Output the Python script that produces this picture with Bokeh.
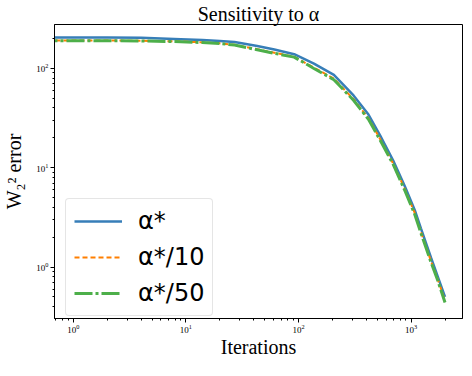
from bokeh.plotting import figure
from bokeh.models import Range1d, Legend, LegendItem
from bokeh.embed import file_html
from bokeh.resources import INLINE

iterations = [0.5, 1, 2, 4, 9, 14, 20, 27, 43, 61, 91.5, 137, 206, 308, 418, 530, 693, 879, 1076, 1222, 1500, 1725, 2000]
err_alpha = [205, 205, 205, 204, 197, 193, 189, 185, 168, 155, 139, 112, 86, 53.4, 34.3, 21.2, 11.8, 6.5, 3.75, 2.45, 1.25, 0.8, 0.5]
err_alpha_10 = [191, 191, 191, 190, 187, 183, 179, 173, 156, 144, 131, 102, 79, 49, 31.5, 19.5, 11, 6.1, 3.5, 2.25, 1.15, 0.75, 0.46]
err_alpha_50 = [190, 190, 190, 189, 186, 182, 178, 172, 154, 142, 130, 100, 77, 47.8, 30.7, 19, 10.8, 5.9, 3.4, 2.2, 1.12, 0.73, 0.44]
labels = ["α*", "α*/10", "α*/50"]

p = figure(width=464, height=360, x_axis_type="log", y_axis_type="log",
           x_range=Range1d(0.68, 2860), y_range=Range1d(0.303, 277),
           output_backend="svg", toolbar_location=None,
           min_border_left=52, min_border_right=2, min_border_top=0, min_border_bottom=0)

p.title.text = "Sensitivity to α"
p.title.align = "center"
p.title.text_font = "Liberation Serif"
p.title.text_font_size = "20px"
p.title.text_font_style = "normal"
p.title.text_color = "black"
p.title.text_line_height = 0.8
p.title.standoff = 0
p.title.offset = 0

p.xgrid.visible = False
p.ygrid.visible = False
p.outline_line_color = "black"
p.outline_line_width = 1
p.outline_line_alpha = 1

for ax in (p.xaxis[0], p.yaxis[0]):
    ax.axis_line_color = "black"
    ax.major_tick_line_color = "black"
    ax.minor_tick_line_color = "black"
    ax.major_tick_in = 0
    ax.major_tick_out = 4
    ax.minor_tick_in = 0
    ax.minor_tick_out = 2
    ax.major_label_standoff = 2
    ax.major_label_text_color = "black"
    ax.major_label_text_font = "Liberation Serif"
    ax.major_label_text_font_size = "9px"
    ax.axis_label_text_color = "black"
    ax.axis_label_text_font = "Liberation Serif"
    ax.axis_label_text_font_size = "20px"
    ax.axis_label_text_font_style = "normal"

p.xaxis.axis_label = "Iterations"
p.xaxis.axis_label_standoff = 0
p.xaxis.axis_label_text_line_height = 0.9
p.yaxis.axis_label = "W₂² error"
p.yaxis.axis_label_standoff = 8

r1 = p.line(iterations, err_alpha, line_color="#377eb8", line_width=2.5)
r2 = p.line(iterations, err_alpha_10, line_color="#ff7f00", line_width=2, line_dash="5 3")
r3 = p.line(iterations, err_alpha_50, line_color="#4daf4a", line_width=3, line_dash="18 3 3 3")

legend = Legend(items=[LegendItem(label=labels[0], renderers=[r1]),
                       LegendItem(label=labels[1], renderers=[r2]),
                       LegendItem(label=labels[2], renderers=[r3])],
                location=(11, 2))
legend.label_text_font = "DejaVu Sans"
legend.label_text_font_size = "24px"
legend.label_text_color = "black"
legend.glyph_width = 48
legend.glyph_height = 24
legend.label_standoff = 16
legend.spacing = 8
legend.padding = 8
legend.margin = 0
legend.border_line_color = "#cccccc"
legend.border_line_width = 1
legend.border_radius = 4
legend.background_fill_alpha = 0.8
p.add_layout(legend, "center")

open("out.html", "w").write(file_html(p, INLINE))
